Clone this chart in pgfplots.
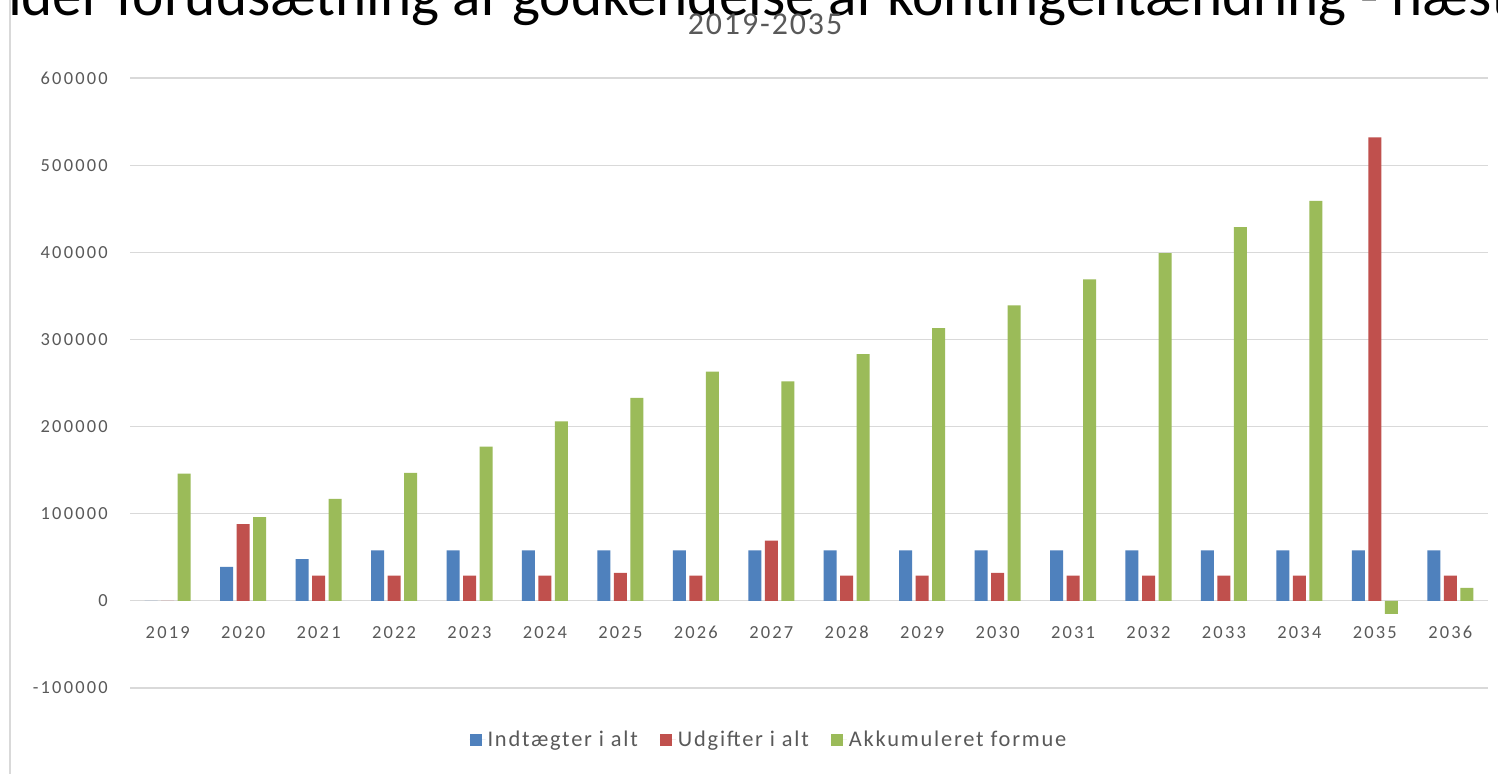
\documentclass[border=0pt]{standalone}
\usepackage{fontspec}
\setmainfont{Carlito}
\newfontfamily\tickfont[LetterSpace=12]{Carlito}
\newfontfamily\legfont[LetterSpace=8]{Carlito}
\newfontfamily\subfont[LetterSpace=6]{Carlito}
\usepackage{pgfplots}
\pgfplotsset{compat=1.18}
\definecolor{cblue}{HTML}{4F81BD}
\definecolor{cred}{HTML}{C0504D}
\definecolor{cgreen}{HTML}{9BBB59}
\definecolor{ctxt}{HTML}{595959}
\definecolor{cgrid}{HTML}{D9D9D9}
\begin{document}
\begin{tikzpicture}
\path[use as bounding box] (0,0) rectangle (1498bp,774bp);
\clip (0,0) rectangle (1498bp,774bp);
\fill[white] (0,0) rectangle (1498bp,774bp);
\draw[cgrid, line width=1.5bp] (10bp,0) -- (10bp,774bp);
\node[anchor=base west, inner sep=0, font=\fontsize{59.5}{62}\selectfont] at (-48bp,758bp) {Under forudsætning af godkendelse af kontingentændring - næste};
\node[anchor=base, inner sep=0, text=ctxt, font=\subfont\fontsize{32}{36}\selectfont] at (765bp,739bp) {2019-2035};
\begin{axis}[
  at={(130bp,86bp)}, anchor=south west,
  scale only axis, width=1358bp, height=610bp,
  xmin=-0.5, xmax=17.5, ymin=-100000, ymax=600000,
  ybar=3.5bp, bar width=13bp,
  axis line style={draw=none},
  major tick length=0pt,
  xtick={0,...,17},
  xticklabels={2019,2020,2021,2022,2023,2024,2025,2026,2027,2028,2029,2030,2031,2032,2033,2034,2035,2036},
  ytick={-100000,0,100000,200000,300000,400000,500000,600000},
  yticklabels={-100000,0,100000,200000,300000,400000,500000,600000},
  scaled y ticks=false,
  tick label style={font=\tickfont\fontsize{18.5}{20}\selectfont, text=ctxt},
  xticklabel style={anchor=base, yshift=49bp},
  yticklabel style={anchor=east, inner sep=0pt, xshift=-22bp},
  ymajorgrids, grid style={cgrid, line width=1.2bp},
  legend style={at={(0.4705,-0.085)}, anchor=center, draw=none, fill=none,
    legend columns=3, font=\legfont\fontsize{22.5}{24}\selectfont, text=ctxt,
    /tikz/every even column/.append style={column sep=20bp}},
  legend image code/.code={\fill[#1] (0bp,-6bp) rectangle (12bp,6bp); \path (0bp,0bp) -- (16bp,0bp);},
]
\addplot[fill=cblue, draw=none] coordinates {(0,0) (1,39000) (2,48000) (3,58000) (4,58000) (5,58000) (6,58000) (7,58000) (8,58000) (9,58000) (10,58000) (11,58000) (12,58000) (13,58000) (14,58000) (15,58000) (16,58000) (17,58000)};
\addplot[fill=cred, draw=none] coordinates {(0,0) (1,88000) (2,29000) (3,29000) (4,29000) (5,29000) (6,32000) (7,29000) (8,69000) (9,29000) (10,29000) (11,32000) (12,29000) (13,29000) (14,29000) (15,29000) (16,532000) (17,29000)};
\addplot[fill=cgreen, draw=none] coordinates {(0,146000) (1,96000) (2,117000) (3,147000) (4,177000) (5,206000) (6,233000) (7,263000) (8,252000) (9,283000) (10,313000) (11,339000) (12,369000) (13,399000) (14,429000) (15,459000) (16,-15000) (17,15000)};
\legend{Indtægter i alt, Udgifter i alt, Akkumuleret formue}
\end{axis}
\end{tikzpicture}
\end{document}
